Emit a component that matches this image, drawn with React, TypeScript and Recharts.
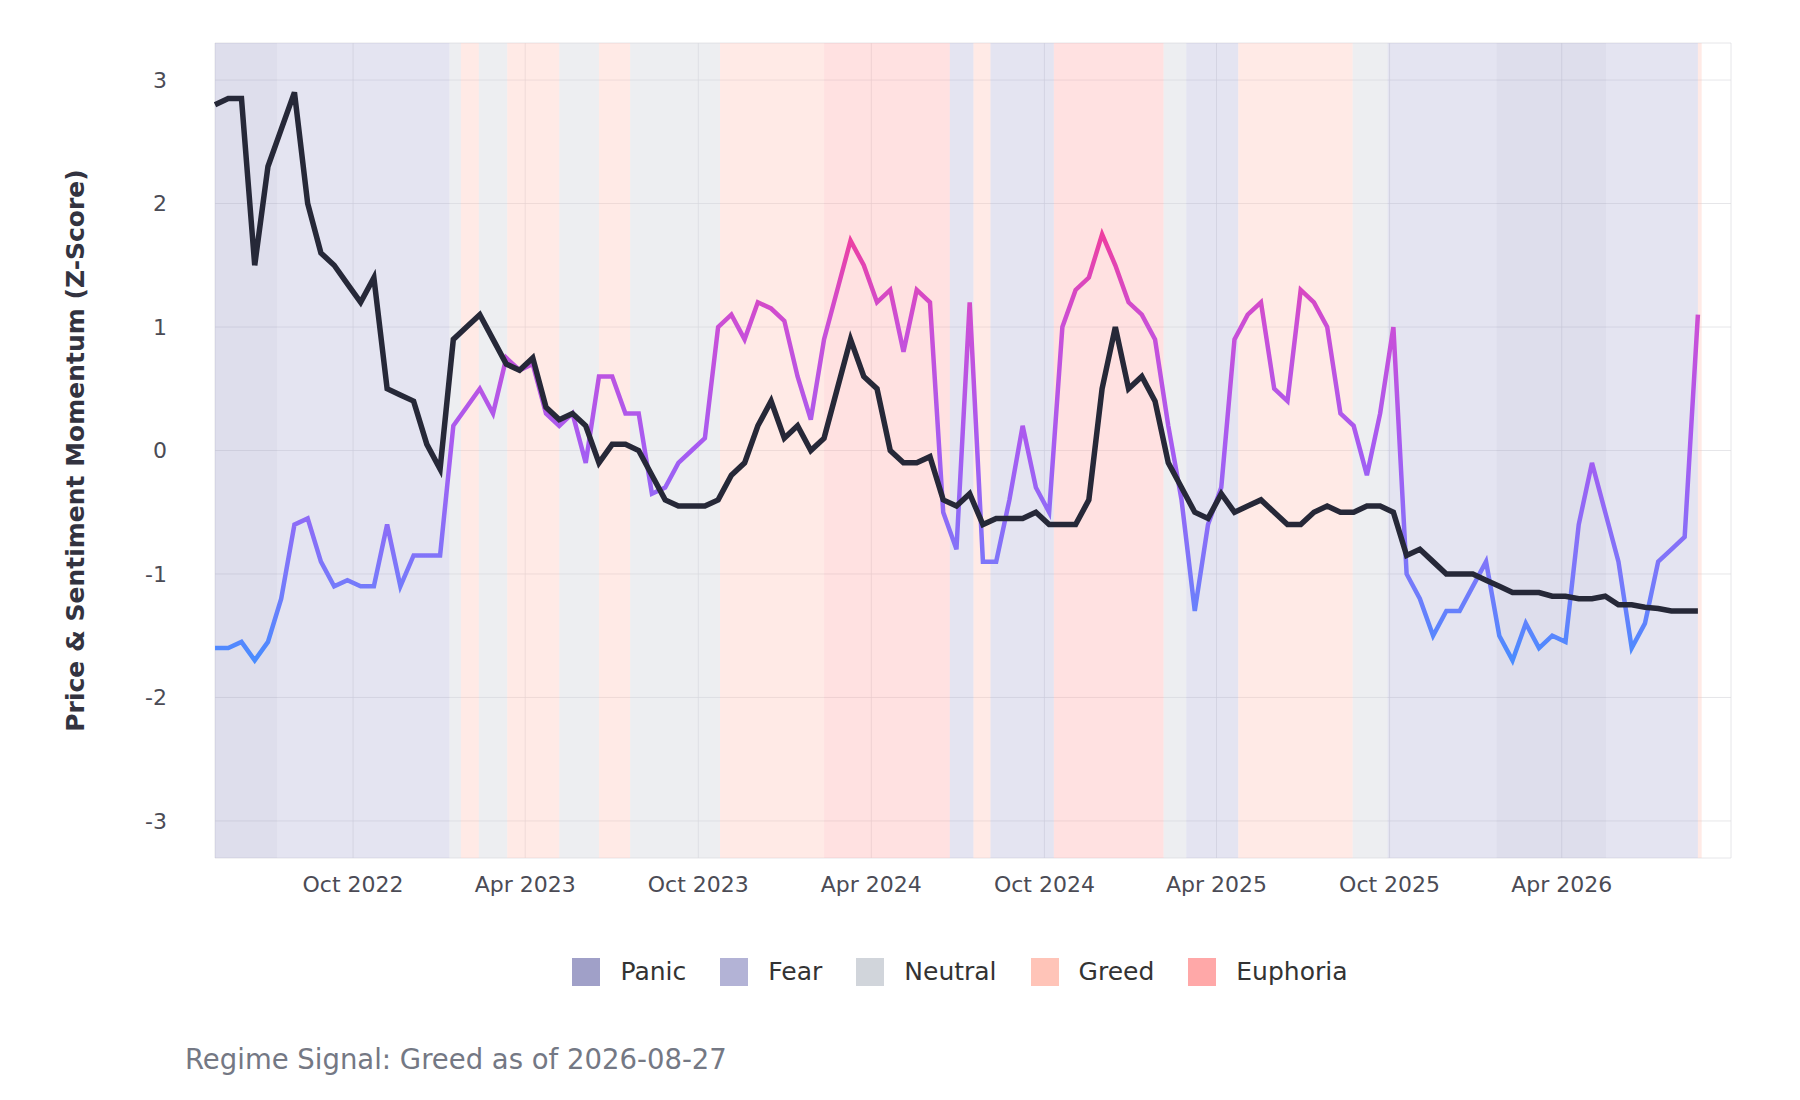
import { ComposedChart, Line, XAxis, YAxis, CartesianGrid, ReferenceArea } from 'recharts'

const START = Date.UTC(2022, 4, 8)
const DAY = 86400000
const STEP_DAYS = 14

const priceMomentum = [
  2.8, 2.85, 2.85, 1.5, 2.3, 2.6, 2.9, 2.0, 1.6, 1.5, 1.35, 1.2, 1.4, 0.5, 0.45, 0.4, 0.05, -0.15,
  0.9, 1.0, 1.1, 0.9, 0.7, 0.65, 0.75, 0.35, 0.25, 0.3, 0.2, -0.1, 0.05, 0.05, 0.0, -0.2, -0.4,
  -0.45, -0.45, -0.45, -0.4, -0.2, -0.1, 0.2, 0.4, 0.1, 0.2, 0.0, 0.1, 0.5, 0.9, 0.6, 0.5, 0.0,
  -0.1, -0.1, -0.05, -0.4, -0.45, -0.35, -0.6, -0.55, -0.55, -0.55, -0.5, -0.6, -0.6, -0.6, -0.4,
  0.5, 1.0, 0.5, 0.6, 0.4, -0.1, -0.3, -0.5, -0.55, -0.35, -0.5, -0.45, -0.4, -0.5, -0.6, -0.6,
  -0.5, -0.45, -0.5, -0.5, -0.45, -0.45, -0.5, -0.85, -0.8, -0.9, -1.0, -1.0, -1.0, -1.05, -1.1,
  -1.15, -1.15, -1.15, -1.18, -1.18, -1.2, -1.2, -1.18, -1.25, -1.25, -1.27, -1.28, -1.3, -1.3, -1.3,
]

const sentimentMomentum = [
  -1.6, -1.6, -1.55, -1.7, -1.55, -1.2, -0.6, -0.55, -0.9, -1.1, -1.05, -1.1, -1.1, -0.6, -1.1,
  -0.85, -0.85, -0.85, 0.2, 0.35, 0.5, 0.3, 0.75, 0.65, 0.7, 0.3, 0.2, 0.3, -0.1, 0.6, 0.6, 0.3,
  0.3, -0.35, -0.3, -0.1, 0.0, 0.1, 1.0, 1.1, 0.9, 1.2, 1.15, 1.05, 0.6, 0.25, 0.9, 1.3, 1.7, 1.5,
  1.2, 1.3, 0.8, 1.3, 1.2, -0.5, -0.8, 1.2, -0.9, -0.9, -0.4, 0.2, -0.3, -0.5, 1.0, 1.3, 1.4, 1.75,
  1.5, 1.2, 1.1, 0.9, 0.2, -0.4, -1.3, -0.6, -0.3, 0.9, 1.1, 1.2, 0.5, 0.4, 1.3, 1.2, 1.0, 0.3, 0.2,
  -0.2, 0.3, 1.0, -1.0, -1.2, -1.5, -1.3, -1.3, -1.1, -0.9, -1.5, -1.7, -1.4, -1.6, -1.5, -1.55,
  -0.6, -0.1, -0.5, -0.9, -1.6, -1.4, -0.9, -0.8, -0.7, 1.1,
]

const bandStart = [
  '2022-05-08', '2022-07-13', '2023-01-11', '2023-01-23', '2023-02-11', '2023-03-13', '2023-05-07',
  '2023-06-18', '2023-07-21', '2023-10-24', '2024-02-11', '2024-06-23', '2024-07-18', '2024-08-05',
  '2024-10-11', '2025-02-04', '2025-02-28', '2025-04-24', '2025-08-23', '2025-09-29', '2026-01-22',
  '2026-05-18', '2026-08-23',
]
const bandEnd = [
  '2022-07-13', '2023-01-11', '2023-01-23', '2023-02-11', '2023-03-13', '2023-05-07', '2023-06-18',
  '2023-07-21', '2023-10-24', '2024-02-11', '2024-06-23', '2024-07-18', '2024-08-05', '2024-10-11',
  '2025-02-04', '2025-02-28', '2025-04-24', '2025-08-23', '2025-09-29', '2026-01-22', '2026-05-18',
  '2026-08-23', '2026-08-27',
]
const bandRegime = [
  'Panic', 'Fear', 'Neutral', 'Greed', 'Neutral', 'Greed', 'Neutral', 'Greed', 'Neutral', 'Greed',
  'Euphoria', 'Fear', 'Greed', 'Fear', 'Euphoria', 'Neutral', 'Fear', 'Greed', 'Neutral', 'Fear',
  'Panic', 'Fear', 'Greed',
]

const regimes = ['Panic', 'Fear', 'Neutral', 'Greed', 'Euphoria']
const regimeColors: Record<string, string> = {
  Panic: '#a0a0c8', Fear: '#b3b3d6', Neutral: '#d1d5db', Greed: '#ffc4b8', Euphoria: '#ffa8a8',
}

const xTicks = ['2022-10-01', '2023-04-01', '2023-10-01', '2024-04-01', '2024-10-01', '2025-04-01', '2025-10-01', '2026-04-01']
const yTicks = [-3, -2, -1, 0, 1, 2, 3]
const MONTHS = ['Jan', 'Feb', 'Mar', 'Apr', 'May', 'Jun', 'Jul', 'Aug', 'Sep', 'Oct', 'Nov', 'Dec']

const toT = (s: string) => Date.parse(s + 'T00:00:00Z')

const data = priceMomentum.map((p, i) => ({
  t: START + i * STEP_DAYS * DAY,
  price: p,
  sentiment: sentimentMomentum[i],
}))

const font = 'DejaVu Sans, sans-serif'

export default function App() {
  return (
    <div style={{ position: 'absolute', left: 0, top: 0, width: 1800, height: 1100, background: '#fff', fontFamily: font }}>
      <ComposedChart width={1800} height={920} data={data} margin={{ top: 43, right: 69, left: 0, bottom: 0 }}>
        <defs>
          <linearGradient id="sentGrad" x1="0" y1="0" x2="0" y2="1">
            <stop offset="0" stopColor="#ee3fa0" />
            <stop offset="0.22" stopColor="#c94fd8" />
            <stop offset="0.51" stopColor="#a55cf2" />
            <stop offset="0.8" stopColor="#7a78fa" />
            <stop offset="1" stopColor="#4a8cff" />
          </linearGradient>
        </defs>
        {bandStart.map((s, i) => (
          <ReferenceArea key={i} x1={toT(s)} x2={toT(bandEnd[i])} fill={regimeColors[bandRegime[i]]}
            fillOpacity={bandRegime[i] === 'Neutral' ? 0.4 : 0.35} stroke="none" />
        ))}
        <CartesianGrid stroke="#dcdce0" strokeOpacity={0.7} />
        <XAxis dataKey="t" type="number" scale="time" domain={[START, toT('2026-09-27')]}
          ticks={xTicks.map(toT)} height={62} tickLine={false} axisLine={false} tickMargin={12}
          tickFormatter={(v: number) => { const d = new Date(v); return `${MONTHS[d.getUTCMonth()]} ${d.getUTCFullYear()}` }}
          tick={{ fontSize: 22, fill: '#4b4b55', fontFamily: font }} />
        <YAxis type="number" domain={[-3.3, 3.3]} ticks={yTicks} width={215} tickLine={false} axisLine={false}
          tickMargin={42} tick={{ fontSize: 22, fill: '#4b4b55', fontFamily: font }}
          label={{ value: 'Price & Sentiment Momentum (Z-Score)', angle: -90, position: 'insideLeft', dx: 70, dy: 0,
            style: { textAnchor: 'middle', fontSize: 25, fontWeight: 'bold', fill: '#333340', fontFamily: font } }} />
        <Line type="linear" dataKey="sentiment" stroke="url(#sentGrad)" strokeWidth={4.5} dot={false} isAnimationActive={false} />
        <Line type="linear" dataKey="price" stroke="#262838" strokeWidth={5.5} dot={false} isAnimationActive={false} />
      </ComposedChart>
      <div style={{ position: 'absolute', top: 957, left: 120, width: 1680, display: 'flex', justifyContent: 'center', gap: 34, fontSize: 25, color: '#333' }}>
        {regimes.map(r => (
          <div key={r} style={{ display: 'flex', alignItems: 'center' }}>
            <span style={{ width: 28, height: 28, background: regimeColors[r], marginRight: 20, display: 'inline-block' }} />
            {r}
          </div>
        ))}
      </div>
      <div style={{ position: 'absolute', top: 1043, left: 185, fontSize: 27.5, color: '#747884' }}>
        Regime Signal: Greed as of 2026-08-27
      </div>
    </div>
  )
}
